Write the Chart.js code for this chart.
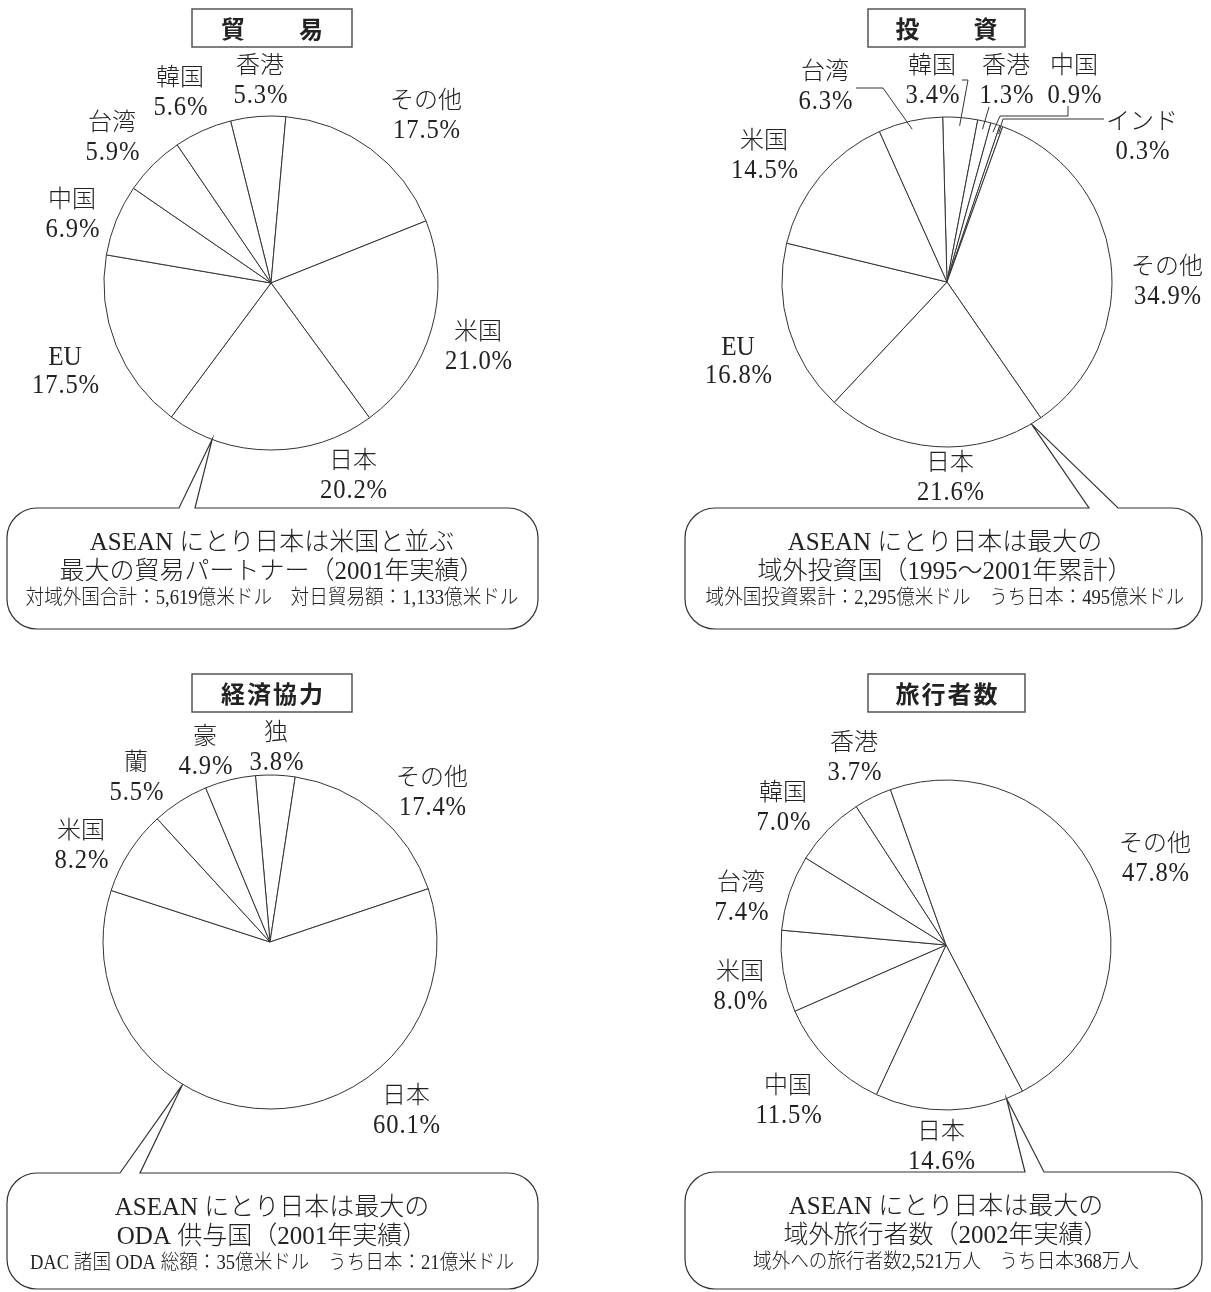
<!DOCTYPE html>
<html lang="ja">
<head>
<meta charset="utf-8">
<title>ASEANにとっての日本</title>
<script src="https://cdn.jsdelivr.net/npm/chart.js@4.4.1/dist/chart.umd.min.js"></script>
<style>
  html, body { margin: 0; padding: 0; background: #fff; }
  #page { position: relative; width: 1211px; height: 1292px; overflow: hidden; }
  .panel { position: absolute; }
</style>
</head>
<body>
<div id="page">
  <canvas id="tradeChart" class="panel" width="605" height="646" style="left:0;top:0"></canvas>
  <canvas id="investChart" class="panel" width="606" height="646" style="left:605px;top:0"></canvas>
  <canvas id="odaChart" class="panel" width="605" height="646" style="left:0;top:646px"></canvas>
  <canvas id="travelChart" class="panel" width="606" height="646" style="left:605px;top:646px"></canvas>
</div>
<script>
// --- Data (shares in %, listed clockwise) ---
const tradeLabels = ['香港', 'その他', '米国', '日本', 'EU', '中国', '台湾', '韓国'];
const tradeShares = [5.3, 17.5, 21.0, 20.2, 17.5, 6.9, 5.9, 5.6];
const tradeNote = ['ASEAN にとり日本は米国と並ぶ', '最大の貿易パートナー（2001年実績）',
                   '対域外国合計：5,619億米ドル　対日貿易額：1,133億米ドル'];

const investLabels = ['韓国', '香港', '中国', 'インド', 'その他', '日本', 'EU', '米国', '台湾'];
const investShares = [3.4, 1.3, 0.9, 0.3, 34.9, 21.6, 16.8, 14.5, 6.3];
const investNote = ['ASEAN にとり日本は最大の', '域外投資国（1995～2001年累計）',
                    '域外国投資累計：2,295億米ドル　うち日本：495億米ドル'];

const odaLabels = ['独', 'その他', '日本', '米国', '蘭', '豪'];
const odaShares = [3.8, 17.4, 60.1, 8.2, 5.5, 4.9];
const odaNote = ['ASEAN にとり日本は最大の', 'ODA 供与国（2001年実績）',
                 'DAC 諸国 ODA 総額：35億米ドル　うち日本：21億米ドル'];

const travelLabels = ['香港', 'その他', '日本', '中国', '米国', '台湾', '韓国'];
const travelShares = [3.7, 47.8, 14.6, 11.5, 8.0, 7.4, 7.0];
const travelNote = ['ASEAN にとり日本は最大の', '域外旅行者数（2002年実績）',
                    '域外への旅行者数2,521万人　うち日本368万人'];

// --- Fonts / colours ---
const SERIF = '"Liberation Serif", "Noto Sans CJK JP", serif';
const GOTHIC = '"Noto Sans CJK JP", sans-serif';
const INK = '#222';
const LINE = '#333';

// --- Layout for each panel (canvas-local pixels) ---
const panels = [
  {
    canvasId: 'tradeChart', title: '貿　　易', labels: tradeLabels, values: tradeShares, note: tradeNote,
    rotation: -14, center: [271, 283], radius: 167,
    titleBox: [192, 9, 160, 38],
    labelPos: [[260, 67], [426, 102], [478, 333], [353, 462], [65, 357], [72, 201], [112, 124], [180, 79]],
    leaders: [],
    callout: { box: [7, 508, 531, 121], base: [179, 195], index: 3, frac: 0.78, textX: 272 }
  },
  {
    canvasId: 'investChart', title: '投　　資', labels: investLabels, values: investShares, note: investNote,
    rotation: -1.5, center: [342, 282], radius: 165,
    titleBox: [263, 9, 157, 38],
    labelPos: [[327, 67], [401, 67], [469, 67], [537, 123], [562, 268], [345, 464], [133, 347], [159, 142], [220, 73]],
    leaders: [
      { index: 8, path: [[251, 88], [278, 88]] },
      { index: 0, path: [[357, 80], [363, 80]] },
      { index: 1, path: [[384, 107]] },
      { index: 2, path: [[463, 106], [463, 116], [395, 116]] },
      { index: 3, path: [[499, 119], [398, 119]] }
    ],
    callout: { box: [80, 508, 517, 121], base: [484, 513], index: 5, frac: 0.05, textX: 340 }
  },
  {
    canvasId: 'odaChart', title: '経済協力', labels: odaLabels, values: odaShares, note: odaNote,
    rotation: -5, center: [270, 296], radius: 167,
    titleBox: [192, 28, 160, 38],
    labelPos: [[276, 88], [432, 133], [406, 451], [81, 186], [136, 118], [205, 92]],
    leaders: [],
    callout: { box: [7, 527, 531, 116], base: [120, 140], index: 2, frac: 0.647, textX: 272 }
  },
  {
    canvasId: 'travelChart', title: '旅行者数', labels: travelLabels, values: travelShares, note: travelNote,
    rotation: -33, center: [341, 299], radius: 165,
    titleBox: [263, 28, 157, 38],
    labelPos: [[249, 98], [550, 199], [336, 487], [183, 441], [135, 327], [136, 238], [178, 148]],
    leaders: [],
    callout: { box: [80, 526, 517, 117], base: [420, 439], index: 2, frac: 0.116, textX: 341 }
  }
];

// --- Helpers ---
function arcPoint(arc, frac, rScale) {
  const a = arc.startAngle + (arc.endAngle - arc.startAngle) * frac;
  const r = arc.outerRadius * rScale;
  return [arc.x + Math.cos(a) * r, arc.y + Math.sin(a) * r];
}

// tall, narrow digits like the printed original
function fillCondensed(ctx, text, x, y, sx) {
  ctx.save();
  ctx.translate(x, y);
  ctx.scale(sx, 1);
  ctx.fillText(text, 0, 0);
  ctx.restore();
}

function calloutPath(ctx, box, base, apex, rad) {
  const [x, y, w, h] = box;
  ctx.beginPath();
  ctx.moveTo(base[1], y);
  ctx.lineTo(x + w - rad, y);
  ctx.arcTo(x + w, y, x + w, y + rad, rad);
  ctx.lineTo(x + w, y + h - rad);
  ctx.arcTo(x + w, y + h, x + w - rad, y + h, rad);
  ctx.lineTo(x + rad, y + h);
  ctx.arcTo(x, y + h, x, y + h - rad, rad);
  ctx.lineTo(x, y + rad);
  ctx.arcTo(x, y, x + rad, y, rad);
  ctx.lineTo(base[0], y);
  ctx.lineTo(apex[0], apex[1]);
  ctx.closePath();
}

// --- Plugin drawing title, labels, leader lines and the speech bubble ---
function makeDecor(p) {
  return {
    id: 'decor',
    afterDraw(chart) {
      const ctx = chart.ctx;
      const arcs = chart.getDatasetMeta(0).data;
      ctx.save();

      // title box
      const [tx, ty, tw, th] = p.titleBox;
      ctx.strokeStyle = '#555';
      ctx.lineWidth = 1.5;
      ctx.strokeRect(tx, ty, tw, th);
      ctx.fillStyle = INK;
      ctx.font = 'bold 24px ' + GOTHIC;
      ctx.textAlign = 'center';
      ctx.textBaseline = 'middle';
      ctx.letterSpacing = '2px';
      ctx.fillText(p.title, tx + tw / 2 + 1, ty + th / 2 + 1);

      // slice labels
      p.labels.forEach((name, i) => {
        const [lx, ly] = p.labelPos[i];
        ctx.letterSpacing = '0px';
        if (/^[A-Za-z]+$/.test(name)) {
          ctx.font = '28px ' + SERIF;
          fillCondensed(ctx, name, lx, ly + 1, 0.9);
        } else {
          ctx.font = '300 24px ' + SERIF;
          ctx.fillText(name, lx, ly);
        }
        ctx.font = '28px ' + SERIF;
        ctx.letterSpacing = '1px';
        fillCondensed(ctx, p.values[i].toFixed(1) + '%', lx + 1, ly + 29, 0.88);
      });
      ctx.letterSpacing = '0px';

      // leader lines for the thin slices
      ctx.strokeStyle = LINE;
      ctx.lineWidth = 1;
      p.leaders.forEach(ld => {
        const end = arcPoint(arcs[ld.index], 0.5, 0.95);
        ctx.beginPath();
        ctx.moveTo(ld.path[0][0], ld.path[0][1]);
        ld.path.slice(1).forEach(pt => ctx.lineTo(pt[0], pt[1]));
        ctx.lineTo(end[0], end[1]);
        ctx.stroke();
      });

      // speech bubble pointing at Japan's slice
      const c = p.callout;
      const apex = arcPoint(arcs[c.index], c.frac, 1);
      calloutPath(ctx, c.box, c.base, apex, 30);
      ctx.fillStyle = '#fff';
      ctx.fill();
      ctx.strokeStyle = LINE;
      ctx.lineWidth = 1.2;
      ctx.stroke();

      ctx.fillStyle = INK;
      const top = c.box[1];
      ctx.font = '300 25px ' + SERIF;
      ctx.fillText(p.note[0], c.textX, top + 35);
      ctx.fillText(p.note[1], c.textX, top + 64);
      ctx.font = '300 20px ' + SERIF;
      fillCondensed(ctx, p.note[2], c.textX, top + 91, 0.93);

      ctx.restore();
    }
  };
}

// --- Build the four pies ---
document.addEventListener('DOMContentLoaded', function() {
  panels.forEach(p => {
    const canvas = document.getElementById(p.canvasId);
    const [cx, cy] = p.center;
    const r = p.radius;
    new Chart(canvas.getContext('2d'), {
      type: 'pie',
      data: {
        labels: p.labels,
        datasets: [{
          data: p.values,
          backgroundColor: '#ffffff',
          borderColor: LINE,
          borderWidth: 1
        }]
      },
      options: {
        responsive: false,
        animation: false,
        rotation: p.rotation,
        radius: r,
        layout: {
          padding: { left: cx - r, top: cy - r, right: canvas.width - cx - r, bottom: canvas.height - cy - r }
        },
        plugins: {
          legend: { display: false },
          tooltip: { enabled: false }
        }
      },
      plugins: [makeDecor(p)]
    });
  });
  console.log('charts drawn');
});
</script>
</body>
</html>
